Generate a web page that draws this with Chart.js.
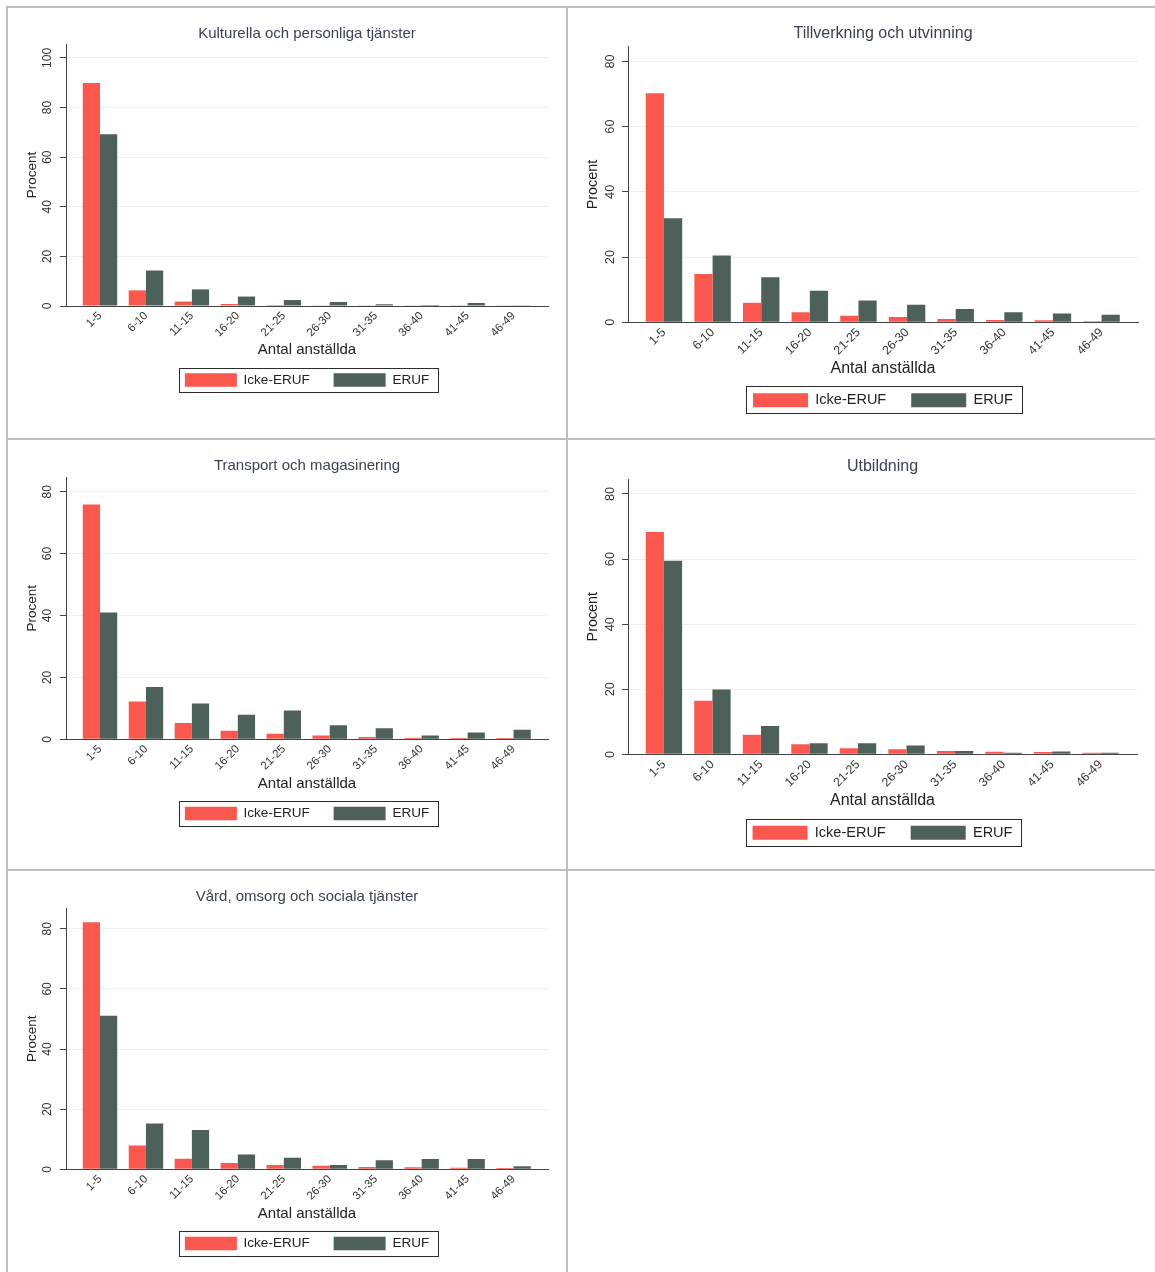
<!DOCTYPE html>
<html>
<head>
<meta charset="utf-8">
<script src="https://cdn.jsdelivr.net/npm/chart.js@4.4.1/dist/chart.umd.min.js"></script>
<style>
  body { margin: 0; background: #fff; }
  #page { position: relative; width: 1155px; height: 1272px; overflow: hidden; background: #fff; }
  #page canvas { position: absolute; }
  .rule { position: absolute; background: #bfbfbf; }
</style>
</head>
<body>
<div id="page">
  <canvas id="c1" width="558" height="430" style="left:8px;top:8px"></canvas>
  <canvas id="c2" width="587" height="430" style="left:568px;top:8px"></canvas>
  <canvas id="c3" width="558" height="429" style="left:8px;top:440px"></canvas>
  <canvas id="c4" width="587" height="429" style="left:568px;top:440px"></canvas>
  <canvas id="c5" width="558" height="401" style="left:8px;top:871px"></canvas>
  <div class="rule" style="left:6px;top:6px;width:1149px;height:2px"></div>
  <div class="rule" style="left:6px;top:6px;width:2px;height:1266px"></div>
  <div class="rule" style="left:566px;top:6px;width:2px;height:1266px"></div>
  <div class="rule" style="left:6px;top:438px;width:1149px;height:2px"></div>
  <div class="rule" style="left:6px;top:869px;width:1149px;height:2px"></div>
</div>
<script>
// categories (antal anställda) and series
const categories = ['1-5', '6-10', '11-15', '16-20', '21-25', '26-30', '31-35', '36-40', '41-45', '46-49'];
const legendLabels = ['Icke-ERUF', 'ERUF'];
const panelTitles = [
  'Kulturella och personliga tjänster',
  'Tillverkning och utvinning',
  'Transport och magasinering',
  'Utbildning',
  'Vård, omsorg och sociala tjänster'
];

const kulturIcke = [89.9, 6.3, 1.8, 0.8, 0.4, 0.3, 0.3, 0.3, 0.3, 0.3];
const kulturEruf = [69.2, 14.3, 6.7, 3.8, 2.4, 1.6, 0.7, 0.4, 1.2, 0.3];
const tillverkIcke = [70.2, 14.8, 6.0, 3.1, 2.0, 1.6, 1.0, 0.7, 0.6, 0.3];
const tillverkEruf = [31.9, 20.5, 13.8, 9.7, 6.7, 5.4, 4.1, 3.1, 2.7, 2.3];
const transportIcke = [75.9, 12.2, 5.3, 2.8, 1.8, 1.2, 0.75, 0.5, 0.4, 0.4];
const transportEruf = [41.0, 16.9, 11.6, 7.9, 9.3, 4.5, 3.6, 1.2, 2.2, 3.1];
const utbildIcke = [68.3, 16.5, 6.0, 3.1, 1.9, 1.6, 1.0, 0.8, 0.7, 0.5];
const utbildEruf = [59.5, 19.9, 8.7, 3.4, 3.4, 2.7, 1.0, 0.5, 0.9, 0.5];
const vardIcke = [82.2, 7.9, 3.5, 2.1, 1.4, 1.2, 0.8, 0.7, 0.55, 0.4];
const vardEruf = [51.1, 15.2, 13.1, 4.9, 3.8, 1.4, 3.0, 3.4, 3.4, 1.0];

// y tick labels
const yTicksTo100 = [0, 20, 40, 60, 80, 100];
const yTicksTo80 = [0, 20, 40, 60, 80];

const RED = '#fa584f';
const GREEN = '#4e605a';
const AXIS = '#444';
const GRID = '#efefef';
const TITLE = '#3b4256';

Chart.defaults.font.family = "'Liberation Sans', Arial, Helvetica, sans-serif";
Chart.defaults.color = '#333';

// text / legend sizes for the left and the (slightly larger) right column
const leftStyle = {title: 15, ticks: 12, xticks: 11.5, axis: 15, ytitle: 13.5, legend: 13.5,
  boxW: 52, boxH: 13.4, legPad: 24, frame: {left: 5.7, right: 8.5, top: 5.6, height: 24.6}};
const rightStyle = {title: 16, ticks: 12.8, xticks: 12.3, axis: 16, ytitle: 14.4, legend: 14.5,
  boxW: 55, boxH: 14, legPad: 25, frame: {left: 6.8, right: 8.6, top: 6.6, height: 26.6}};

// box around the legend, like the stata legend
const legendFrame = {
  id: 'legendFrame',
  afterDraw(chart, args, opts) {
    const hb = chart.legend && chart.legend.legendHitBoxes;
    if (!hb || !hb.length) return;
    const first = hb[0], last = hb[hb.length - 1];
    const x1 = Math.round(first.left - opts.left) + 0.5;
    const x2 = Math.round(last.left + last.width + opts.right) + 0.5;
    const y1 = Math.round(first.top - opts.top) + 0.5;
    const y2 = Math.round(first.top - opts.top + opts.height) + 0.5;
    const ctx = chart.ctx;
    ctx.save();
    ctx.strokeStyle = '#2b2b2b';
    ctx.lineWidth = 1;
    ctx.strokeRect(x1, y1, x2 - x1, y2 - y1);
    ctx.restore();
  }
};

const panels = [
  {canvas: 'c1', title: panelTitles[0], icke: kulturIcke, eruf: kulturEruf, yMax: 105.6, yTicks: yTicksTo100, style: leftStyle,
   geo: {yAxisW: 58, padR: 18, tTop: 16.5, tBot: 1.5, xAxisH: 43.3, xTitleB: -9.7, padB: 41.2, yTickPad: 2, yTitleTop: 16.6}},
  {canvas: 'c2', title: panelTitles[1], icke: tillverkIcke, eruf: tillverkEruf, yMax: 84.5, yTicks: yTicksTo80, style: rightStyle,
   geo: {yAxisW: 60, padR: 17, tTop: 16.2, tBot: 3.3, xAxisH: 45.7, xTitleB: -9.9, padB: 20.5, yTickPad: 4.9, yTitleTop: 16.5}},
  {canvas: 'c3', title: panelTitles[2], icke: transportIcke, eruf: transportEruf, yMax: 84.75, yTicks: yTicksTo80, style: leftStyle,
   geo: {yAxisW: 58, padR: 18, tTop: 16.5, tBot: 2.5, xAxisH: 43.4, xTitleB: -10, padB: 38.8, yTickPad: 5.3, yTitleTop: 16.6}},
  {canvas: 'c4', title: panelTitles[3], icke: utbildIcke, eruf: utbildEruf, yMax: 84.6, yTicks: yTicksTo80, style: rightStyle,
   geo: {yAxisW: 60, padR: 18, tTop: 16.7, tBot: 3.1, xAxisH: 46.15, xTitleB: -9.85, padB: 19, yTickPad: 4.9, yTitleTop: 16.5}},
  {canvas: 'c5', title: panelTitles[4], icke: vardIcke, eruf: vardEruf, yMax: 86.9, yTicks: yTicksTo80, style: leftStyle,
   geo: {yAxisW: 58, padR: 18, tTop: 16.8, tBot: 2.2, xAxisH: 43.4, xTitleB: -10, padB: 11.8, yTickPad: 5.3, yTitleTop: 16.6}}
];

function drawPanel(p) {
  const s = p.style, g = p.geo;
  new Chart(document.getElementById(p.canvas), {
    type: 'bar',
    data: {
      datasets: [
        {label: legendLabels[0], data: p.icke.map((v, i) => ({x: i, y: v})), backgroundColor: RED, borderWidth: 0},
        {label: legendLabels[1], data: p.eruf.map((v, i) => ({x: i, y: v})), backgroundColor: GREEN, borderWidth: 0}
      ]
    },
    plugins: [legendFrame],
    options: {
      responsive: false,
      animation: false,
      devicePixelRatio: 1,
      layout: {padding: {left: 0, right: g.padR, top: 0, bottom: g.padB}},
      datasets: {bar: {categoryPercentage: 0.75, barPercentage: 1}},
      scales: {
        x: {
          type: 'linear',
          offset: false,
          bounds: 'data',
          min: -0.74,
          max: 9.75,
          afterBuildTicks: sc => { sc.ticks = categories.map((c, i) => ({value: i})); },
          afterFit: sc => { sc.height = g.xAxisH; },
          grid: {display: false, drawTicks: false, offset: false},
          border: {display: true, color: AXIS, width: 1},
          ticks: {
            autoSkip: false, minRotation: 45, maxRotation: 45, padding: 3,
            font: {size: s.xticks}, color: '#333',
            callback: v => categories[v]
          },
          title: {display: true, text: 'Antal anställda', color: '#222', font: {size: s.axis},
            padding: {top: 0, bottom: g.xTitleB}}
        },
        y: {
          bounds: 'data',
          min: 0,
          max: p.yMax,
          afterBuildTicks: sc => { sc.ticks = p.yTicks.map(v => ({value: v})); },
          afterFit: sc => { sc.width = g.yAxisW; },
          grid: {
            color: c => (c.tick && c.tick.value === 0 ? AXIS : GRID),
            tickColor: AXIS, tickLength: 6, lineWidth: 1
          },
          border: {display: true, color: AXIS, width: 1},
          ticks: {
            minRotation: 90, maxRotation: 90, crossAlign: 'center', padding: g.yTickPad,
            font: {size: s.ticks}, color: '#333'
          },
          title: {display: true, text: 'Procent', color: '#222', font: {size: s.ytitle},
            padding: {top: g.yTitleTop, bottom: 0}}
        }
      },
      plugins: {
        title: {
          display: true, text: p.title, fullSize: false, color: TITLE,
          font: {size: s.title, weight: 'normal'},
          padding: {top: g.tTop, bottom: g.tBot}
        },
        legend: {
          position: 'bottom', fullSize: false, align: 'center',
          labels: {boxWidth: s.boxW, boxHeight: s.boxH, padding: s.legPad, color: '#222', font: {size: s.legend}}
        },
        tooltip: {enabled: false},
        legendFrame: s.frame
      }
    }
  });
}

panels.forEach(drawPanel);
</script>
</body>
</html>
